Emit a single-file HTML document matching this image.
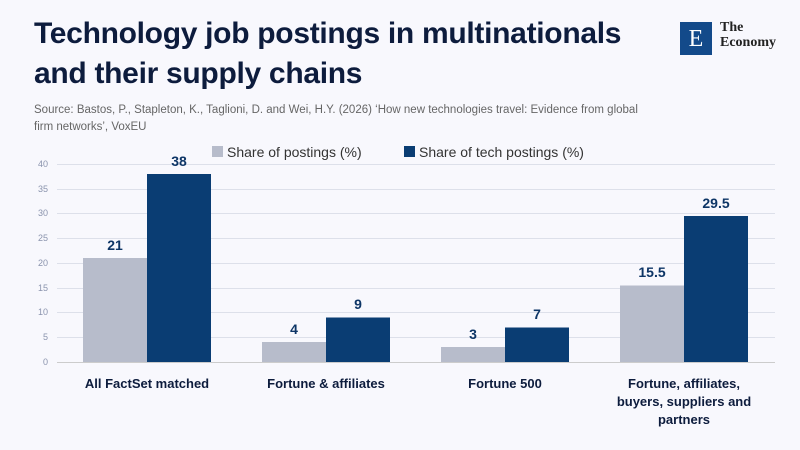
<!DOCTYPE html>
<html><head><meta charset="utf-8"><style>
body{margin:0;width:800px;height:450px;background:#f8f8fd;font-family:"Liberation Sans",sans-serif;overflow:hidden;position:relative}
h1{position:absolute;left:34px;top:14px;margin:0;font-size:30px;line-height:40px;color:#0d1c3d;font-weight:bold;letter-spacing:-0.3px}
.src{position:absolute;left:34px;top:102px;font-size:11.5px;line-height:17px;color:#666;width:625px}
.logo{position:absolute;left:680px;top:22px;width:32px;height:33px;background:#134a8a;color:#fff;font-family:"Liberation Serif",serif;font-size:24px;text-align:center;line-height:34px}
.lt{position:absolute;left:720px;top:20px;font-family:"Liberation Serif",serif;font-size:14px;line-height:15px;color:#222;font-weight:bold}
</style></head><body>
<h1>Technology job postings in multinationals<br>and their supply chains</h1>
<div class="src">Source: Bastos, P., Stapleton, K., Taglioni, D. and Wei, H.Y. (2026) ‘How new technologies travel: Evidence from global firm networks’, VoxEU</div>
<div class="logo">E</div><div class="lt">The<br>Economy</div>
<svg width="800" height="450" style="position:absolute;left:0;top:0" font-family="Liberation Sans, sans-serif">
<g stroke="#dde0ea" stroke-width="1">
<line x1="57" x2="775" y1="164.5" y2="164.5"/><line x1="57" x2="775" y1="189.5" y2="189.5"/><line x1="57" x2="775" y1="213.5" y2="213.5"/><line x1="57" x2="775" y1="238.5" y2="238.5"/><line x1="57" x2="775" y1="263.5" y2="263.5"/><line x1="57" x2="775" y1="288.5" y2="288.5"/><line x1="57" x2="775" y1="312.5" y2="312.5"/><line x1="57" x2="775" y1="337.5" y2="337.5"/><line x1="57" x2="775" y1="362.5" y2="362.5" stroke="#ccc"/>
</g>
<g font-size="9" fill="#8a93ad" text-anchor="end">
<text x="48" y="167">40</text><text x="48" y="192">35</text><text x="48" y="216">30</text><text x="48" y="241">25</text><text x="48" y="266">20</text><text x="48" y="291">15</text><text x="48" y="315">10</text><text x="48" y="340">5</text><text x="48" y="365">0</text>
</g>
<g fill="#b7bccb"><rect x="83" y="258" width="64" height="104"/><rect x="262" y="342" width="64" height="20"/><rect x="441" y="347" width="64" height="15"/><rect x="620" y="285.5" width="64" height="76.5"/></g>
<g fill="#0a3d73"><rect x="147" y="174" width="64" height="188"/><rect x="326" y="317.5" width="64" height="44.5"/><rect x="505" y="327.5" width="64" height="34.5"/><rect x="684" y="216" width="64" height="146"/></g>
<g font-size="14" font-weight="bold" fill="#0d3566" text-anchor="middle">
<text x="115" y="250">21</text><text x="179" y="166">38</text><text x="294" y="334">4</text><text x="358" y="309">9</text><text x="473" y="339">3</text><text x="537" y="319">7</text><text x="652" y="277">15.5</text><text x="716" y="208">29.5</text>
</g>
<rect x="212" y="146" width="11" height="11" fill="#b7bccb"/><text x="227" y="157" font-size="14" fill="#333">Share of postings (%)</text>
<rect x="404" y="146" width="11" height="11" fill="#0a3d73"/><text x="419" y="157" font-size="14" fill="#333">Share of tech postings (%)</text>
<g font-size="13" font-weight="bold" fill="#0d1c3d" text-anchor="middle">
<text x="147" y="388">All FactSet matched</text><text x="326" y="388">Fortune &amp; affiliates</text><text x="505" y="388">Fortune 500</text>
<text x="684" y="388">Fortune, affiliates,</text><text x="684" y="406">buyers, suppliers and</text><text x="684" y="424">partners</text>
</g>
</svg>
</body></html>
